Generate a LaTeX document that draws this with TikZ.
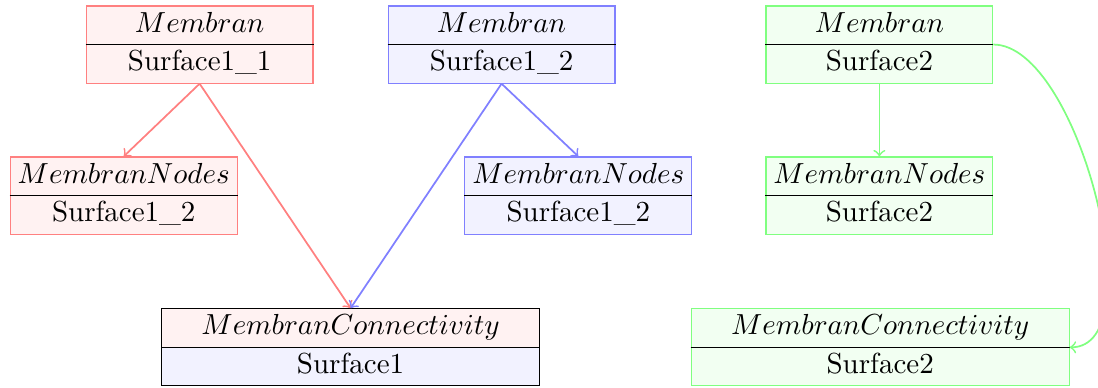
\documentclass[tikz,border=0pt]{standalone}
\usepackage{amsmath,amssymb}
\usepackage{tikz}
\usetikzlibrary{shapes.multipart}

\newcommand{\memtext}[2]{$#1$\strut\nodepart{two}#2\strut}

\tikzset{
  membox/.style={rectangle split, rectangle split parts=2, draw=#1!50,
    rectangle split part fill={#1!5,#1!5}, minimum width=2.75cm, inner ysep=0.45pt, inner xsep=2.2pt},
  widebox/.style={minimum width=4.58cm},
  link/.style={->,semithick,color=#1!50}
}

\begin{document}
\begin{tikzpicture}

\useasboundingbox (0,0) rectangle (13.31,-4.70);

    \node[membox=red]   (redtop)   at (2.42,-0.54)  {\memtext{Membran}{Surface1\_1}};
    \node[membox=blue]  (bluetop)  at (6.08,-0.54)  {\memtext{Membran}{Surface1\_2}};
    \node[membox=green] (greentop) at (10.66,-0.54) {\memtext{Membran}{Surface2}};

    \node[membox=red]   (rednodes)   at (1.50,-2.37)  {\memtext{MembranNodes}{Surface1\_2}};
    \node[membox=blue]  (bluenodes)  at (7.01,-2.37)  {\memtext{MembranNodes}{Surface1\_2}};
    \node[membox=green] (greennodes) at (10.66,-2.37) {\memtext{MembranNodes}{Surface2}};

    \node[membox=red,widebox,draw=black,rectangle split part fill={red!5,blue!5}] (conn) at (4.25,-4.21) {\memtext{MembranConnectivity}{Surface1}};
    \node[membox=green,widebox] (greenconn) at (10.67,-4.21) {\memtext{MembranConnectivity}{Surface2}};

\foreach \n in {redtop,bluetop,greentop,rednodes,bluenodes,greennodes,greenconn}
    \draw (\n.text split west) -- (\n.text split east);

\draw[link=red] (redtop.south) -- (rednodes.north);
\draw[link=red] (redtop.south) -- (conn.north);
\draw[link=blue] (bluetop.south) -- (conn.north);
\draw[link=blue] (bluetop.south) -- (bluenodes.north);
\draw[link=green] (greentop.south) -- (greennodes.north);
\draw[link=green] (greentop.text split east) to[out=0,in=0,looseness=0.7] (greenconn.text split east);
\end{tikzpicture}
\end{document}
